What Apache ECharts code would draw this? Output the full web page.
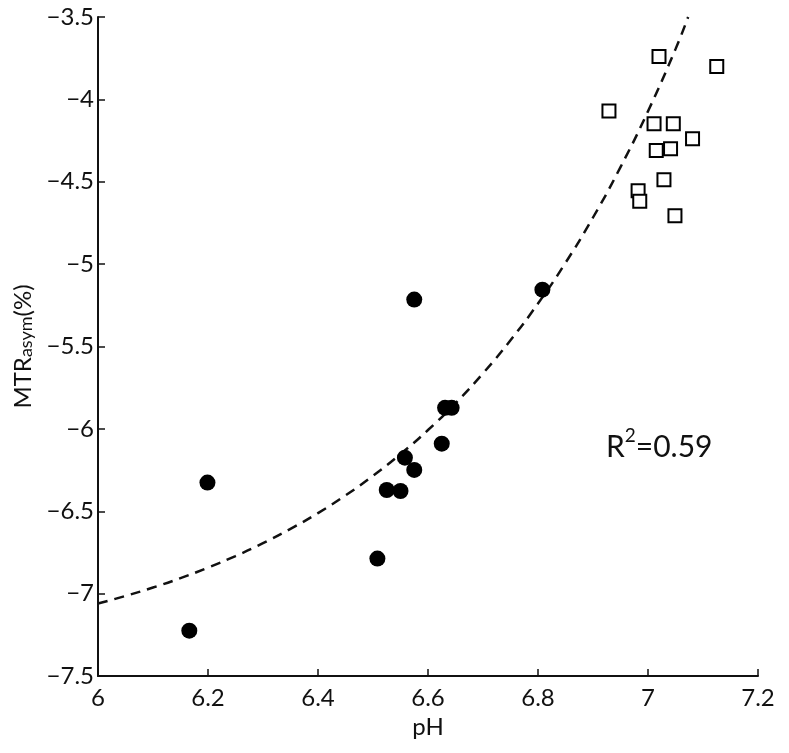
<!DOCTYPE html>
<html><head><meta charset="utf-8">
<script src="https://cdn.jsdelivr.net/npm/echarts@6/dist/echarts.min.js"></script>
<style>html,body{margin:0;padding:0;background:#fff}#c{width:789px;height:753px}</style>
</head><body><div id="c"></div>
<script>
// filled circles (pH, MTRasym)
var circleX = [6.575, 6.808, 6.631, 6.643, 6.625, 6.558, 6.575, 6.525, 6.550, 6.199, 6.508, 6.166];
var circleY = [-5.215, -5.155, -5.872, -5.872, -6.09, -6.175, -6.249, -6.371, -6.377, -6.326, -6.787, -7.225];
// open squares
var squareX = [7.020, 7.125, 6.929, 7.011, 7.046, 7.081, 7.015, 7.041, 7.029, 6.982, 6.985, 7.049];
var squareY = [-3.74, -3.80, -4.07, -4.148, -4.148, -4.239, -4.310, -4.30, -4.488, -4.555, -4.619, -4.706];
// dashed fit curve
var fitX = [6.0, 6.05, 6.1, 6.15, 6.2, 6.25, 6.3, 6.35, 6.4, 6.45, 6.5, 6.55, 6.6, 6.65, 6.7, 6.75, 6.8, 6.85, 6.9, 6.95, 7.0, 7.05, 7.073];
var fitY = [-7.06, -7.014, -6.963, -6.906, -6.842, -6.772, -6.694, -6.607, -6.511, -6.404, -6.285, -6.153, -6.007, -5.844, -5.663, -5.462, -5.239, -4.992, -4.717, -4.411, -4.072, -3.695, -3.50];
var xTicks = [6, 6.2, 6.4, 6.6, 6.8, 7, 7.2];
var yTicks = [-7.5, -7, -6.5, -6, -5.5, -5, -4.5, -4, -3.5];
var r2Text = 'R{sup|2}=0.59';

function zip(a, b) { return a.map(function (v, i) { return [v, b[i]]; }); }
var FONT = 'Lato';
var chart = echarts.init(document.getElementById('c'), null, {renderer: 'canvas'});
chart.setOption({
  animation: false,
  backgroundColor: '#fff',
  grid: {left: 98, top: 17, right: 31, bottom: 77, containLabel: false},
  xAxis: {
    type: 'value', min: 6, max: 7.2, interval: 0.2,
    name: 'pH', nameLocation: 'middle', nameGap: 28,
    nameTextStyle: {fontFamily: FONT, fontSize: 24, color: '#111'},
    axisLine: {show: true, lineStyle: {color: '#111', width: 2}},
    axisTick: {show: true, inside: true, length: 7, lineStyle: {color: '#111', width: 1.5}},
    axisLabel: {fontFamily: FONT, fontSize: 24, color: '#111', margin: 10,
      formatter: function (v) { return String(Math.round(v * 10) / 10); }},
    splitLine: {show: false}
  },
  yAxis: {
    type: 'value', min: -7.5, max: -3.5, interval: 0.5,
    name: 'MTR{sub|asym}(%)', nameLocation: 'middle', nameGap: 57, nameRotate: 90,
    nameTextStyle: {fontFamily: FONT, fontSize: 24, color: '#111',
      rich: {sub: {fontFamily: FONT, fontSize: 18, color: '#111', padding: [5, 0, 0, 0]}}},
    axisLine: {show: true, lineStyle: {color: '#111', width: 2}},
    axisTick: {show: true, inside: true, length: 7, lineStyle: {color: '#111', width: 1.5}},
    axisLabel: {fontFamily: FONT, fontSize: 24, color: '#111', margin: 4,
      formatter: function (v) { return String(Math.round(v * 10) / 10).replace('-', '\u2212'); }},
    splitLine: {show: false}
  },
  series: [
    {type: 'line', data: zip(fitX, fitY), smooth: true, symbol: 'none',
      lineStyle: {color: '#111', width: 2.5, type: [10, 7]}, z: 1},
    {type: 'scatter', data: zip(circleX, circleY), symbol: 'circle', symbolSize: 16,
      itemStyle: {color: '#000', opacity: 1}, z: 3},
    {type: 'scatter', data: zip(squareX, squareY), symbol: 'rect', symbolSize: 13,
      itemStyle: {color: '#fff', borderColor: '#000', borderWidth: 2, opacity: 1}, z: 3}
  ],
  graphic: [{
    type: 'text', left: 606, top: 426,
    style: {text: r2Text, fontFamily: FONT, fontSize: 30, fill: '#111', lineHeight: 42,
      rich: {sup: {fontFamily: FONT, fontSize: 19, fill: '#111', verticalAlign: 'top', lineHeight: 28}}}
  }]
});
</script></body></html>
